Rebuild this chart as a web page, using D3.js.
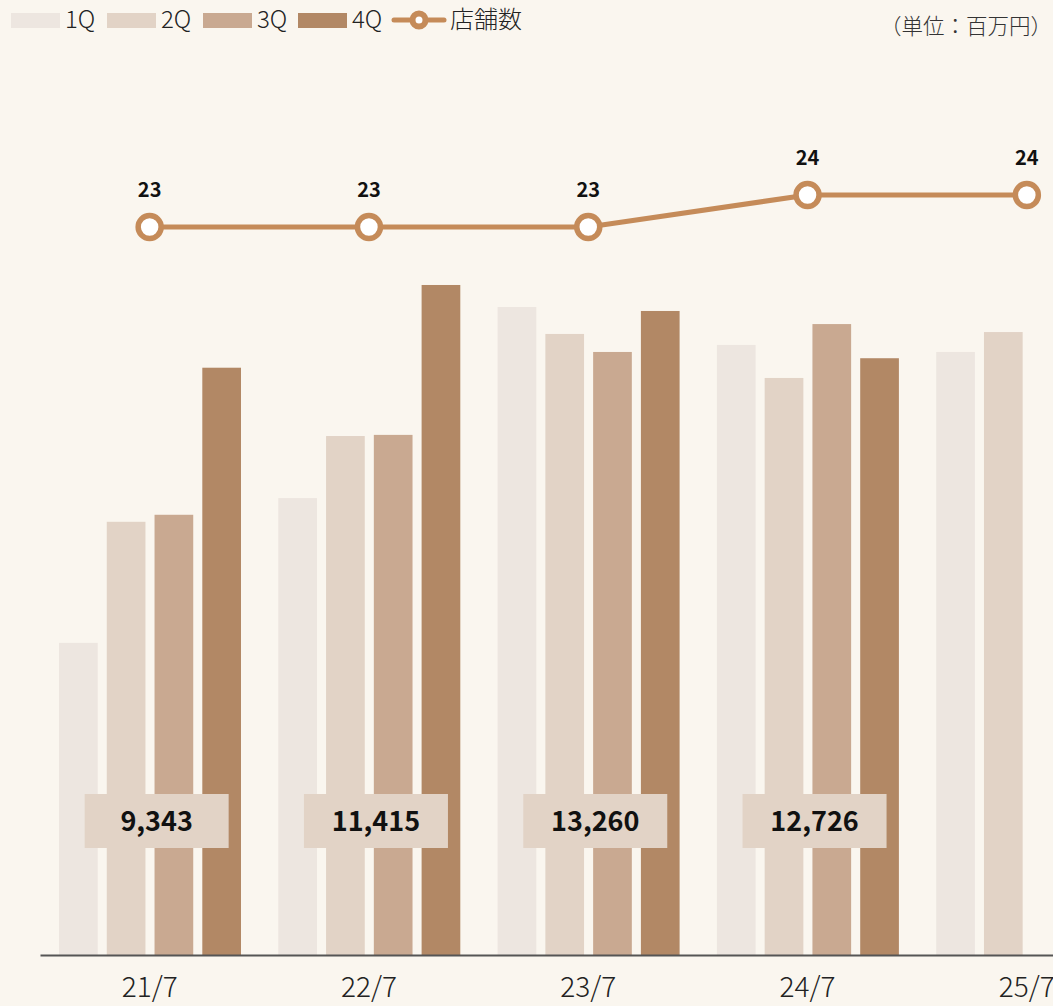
<!DOCTYPE html>
<html>
<head>
<meta charset="utf-8">
<script src="https://cdn.jsdelivr.net/npm/d3@7"></script>
<style>
  html, body { margin: 0; padding: 0; background: #faf6ef; overflow: hidden; }
  text { font-family: "Noto Sans CJK JP", "Noto Sans", sans-serif; }
</style>
</head>
<body>
<script>
// Sales by quarter (million yen) and store count
var categories = ["21/7", "22/7", "23/7", "24/7", "25/7"];
var quarters = ["1Q", "2Q", "3Q", "4Q"];
var q1 = [1645, 2408, 3415, 3215, 3178];
var q2 = [2283, 2735, 3273, 3041, 3283];
var q3 = [2320, 2741, 3178, 3325, null];
var q4 = [3095, 3531, 3394, 3145, null];
var totals = [9343, 11415, 13260, 12726, null];
var stores = [23, 23, 23, 24, 24];
var colors = ["#ede6e0", "#e2d3c6", "#c9a991", "#b28865"];
var lineColor = "#c58b59";

var WIDTH = 1053, HEIGHT = 1006;
var svg = d3.select("body").append("svg")
    .attr("width", WIDTH)
    .attr("height", HEIGHT)
    .style("background-color", "#faf6ef");

var x = d3.scaleBand().domain(categories).range([40, 40 + 219.3 * 5]);
var xq = d3.scaleBand().domain(quarters).range([19, 201]).paddingInner(0.19);
var y = d3.scaleLinear().domain([0, 4000]).range([955, 955 - 4000 / 5.27]);
var y2 = d3.scaleLinear().domain([23, 24]).range([227, 195]);

var series = [q1, q2, q3, q4];

// bars
series.forEach(function(vals, qi) {
  svg.append("g").selectAll("rect")
    .data(vals.map(function(v, i) { return {cat: categories[i], v: v}; }).filter(function(d) { return d.v != null; }))
    .enter().append("rect")
      .attr("x", function(d) { return x(d.cat) + xq(quarters[qi]); })
      .attr("y", function(d) { return y(d.v); })
      .attr("width", xq.bandwidth())
      .attr("height", function(d) { return y(0) - y(d.v); })
      .style("fill", colors[qi]);
});

// x axis (the last label runs off the right edge, as in the original)
var xAxis = svg.append("g")
    .attr("transform", "translate(0,955)")
    .call(d3.axisBottom(x).tickSize(0).tickPadding(22));
xAxis.select(".domain").attr("stroke", "#555").attr("stroke-width", 2);
xAxis.selectAll("text")
    .style("font-size", "28px")
    .style("font-weight", "300")
    .style("fill", "#222")
    .style("font-family", "\"Noto Sans CJK JP\", sans-serif");

// total boxes
var tot = svg.append("g").selectAll("g")
    .data(totals.map(function(t, i) { return {cat: categories[i], t: t}; }).filter(function(d) { return d.t != null; }))
    .enter().append("g")
    .attr("transform", function(d) { return "translate(" + (x(d.cat) + x.bandwidth() / 2 + 7) + ",821)"; });
tot.append("rect")
    .attr("x", -72).attr("y", -27)
    .attr("width", 144).attr("height", 54)
    .style("fill", "#e2d3c6");
tot.append("text")
    .attr("text-anchor", "middle")
    .attr("dy", "0.36em")
    .style("font-size", "27px")
    .style("font-weight", "bold")
    .style("fill", "#111")
    .text(function(d) { return d3.format(",")(d.t); });

// store line
var line = d3.line()
    .x(function(d, i) { return x(categories[i]) + x.bandwidth() / 2; })
    .y(function(d) { return y2(d); });
svg.append("path")
    .datum(stores)
    .attr("d", line)
    .style("fill", "none")
    .style("stroke", lineColor)
    .style("stroke-width", 5);
svg.append("g").selectAll("circle")
    .data(stores)
    .enter().append("circle")
      .attr("cx", function(d, i) { return x(categories[i]) + x.bandwidth() / 2; })
      .attr("cy", function(d) { return y2(d); })
      .attr("r", 11.5)
      .style("fill", "white")
      .style("stroke", lineColor)
      .style("stroke-width", 5.5);
svg.append("g").selectAll("text")
    .data(stores)
    .enter().append("text")
      .attr("x", function(d, i) { return x(categories[i]) + x.bandwidth() / 2; })
      .attr("y", function(d) { return y2(d) - 37; })
      .attr("text-anchor", "middle")
      .attr("dy", "0.36em")
      .style("font-size", "20px")
      .style("font-weight", "bold")
      .style("fill", "#111")
      .text(function(d) { return d; });

// legend
var legendX = [11, 107, 203, 298];
var leg = svg.append("g");
quarters.forEach(function(q, i) {
  leg.append("rect")
    .attr("x", legendX[i]).attr("y", 13)
    .attr("width", 49).attr("height", 15)
    .style("fill", colors[i]);
  leg.append("text")
    .attr("x", legendX[i] + 54).attr("y", 19)
    .attr("dy", "0.36em")
    .style("font-size", "24px")
    .style("font-weight", "300")
    .style("fill", "#222")
    .text(q);
});
leg.append("line")
  .attr("x1", 394).attr("x2", 444).attr("y1", 20).attr("y2", 20)
  .style("stroke", lineColor).style("stroke-width", 5).style("stroke-linecap", "round");
leg.append("circle")
  .attr("cx", 419).attr("cy", 20).attr("r", 6.5)
  .style("fill", "white").style("stroke", lineColor).style("stroke-width", 6);
leg.append("text")
  .attr("x", 450).attr("y", 19)
  .attr("dy", "0.36em")
  .style("font-size", "24px")
  .style("font-weight", "300")
  .style("fill", "#222")
  .text("店舗数");

svg.append("text")
  .attr("x", 1052).attr("y", 26)
  .attr("text-anchor", "end")
  .attr("dy", "0.36em")
  .style("font-size", "21.5px")
  .style("font-weight", "300")
  .style("fill", "#333")
  .text("（単位：百万円）");
</script>
</body>
</html>
